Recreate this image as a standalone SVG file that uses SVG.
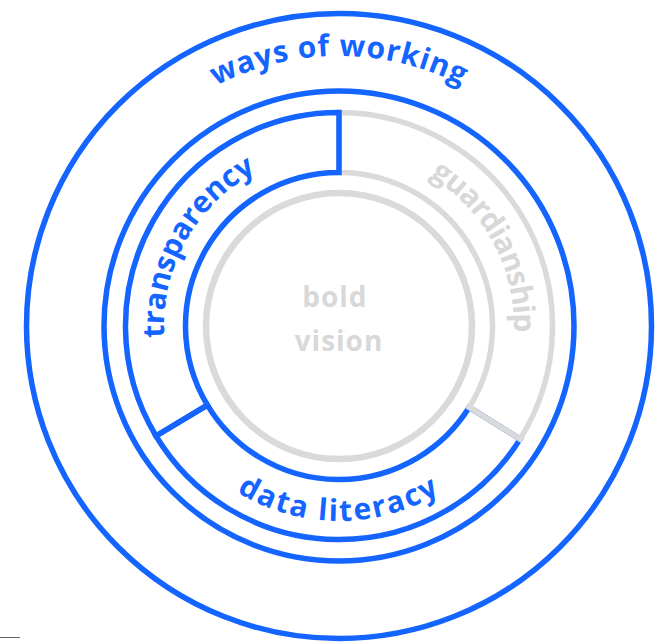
<svg xmlns="http://www.w3.org/2000/svg" width="666" height="643" viewBox="0 0 666 643">
  <style>
    .blue { fill: none; stroke: #1464FF; stroke-width: 5.5; stroke-linejoin: miter; }
    .grey { fill: none; stroke: #DADADA; stroke-width: 5.5; stroke-linejoin: miter; }
    .core { fill: none; stroke: #DADADA; stroke-width: 6.5; }
    .lbl { font-family: "Open Sans", "Liberation Sans", sans-serif; font-weight: 700; font-size: 30px; }
    .lb { fill: #1464FF; }
    .lg { fill: #D8D8D8; }
  </style>
  <defs>
    <path id="p-ways" d="M69,326 A270,270 0 0 1 609,326"/>
    <path id="p-trans" d="M254.2,479.1 A175,175 0 0 1 423.8,172.9"/>
    <path id="p-guard" d="M255.5,172.2 A175,175 0 0 1 422.5,479.8"/>
    <path id="p-data" d="M144,326 A195,195 0 0 0 534,326"/>
  </defs>
  <rect width="666" height="643" fill="#FFFFFF"/>
  <line x1="0" y1="637.5" x2="20" y2="637.5" stroke="#666666" stroke-width="1"/>

  <g id="ways-of-working">
    <circle class="blue" cx="339" cy="326" r="312.5"/>
    <circle class="blue" cx="339" cy="326" r="235"/>
    <text class="lbl lb" letter-spacing="0.8"><textPath href="#p-ways" startOffset="50%" text-anchor="middle">ways of working</textPath></text>
  </g>

  <g id="data-literacy">
    <path class="blue" d="M520.1,439.1 A213.5,213.5 0 0 1 156,436 L207.4,405.05 A153.5,153.5 0 0 0 469.2,407.3 Z"/>
    <text class="lbl lb" letter-spacing="2"><textPath href="#p-data" startOffset="50%" text-anchor="middle">data literacy</textPath></text>
  </g>

  <g id="guardianship">
    <path class="grey" d="M339,112.5 A213.5,213.5 0 0 1 520.1,439.1 L469.2,407.3 A153.5,153.5 0 0 0 339,172.5 Z"/>
    <text class="lbl lg" letter-spacing="-1"><textPath href="#p-guard" startOffset="50%" text-anchor="middle">guardianship</textPath></text>
  </g>

  <g id="transparency">
    <path class="blue" d="M156,436 A213.5,213.5 0 0 1 339,112.5 L339,172.5 A153.5,153.5 0 0 0 207.4,405.05 Z"/>
    <text class="lbl lb"><textPath href="#p-trans" startOffset="50%" text-anchor="middle">transparency</textPath></text>
  </g>

  <g id="bold-vision">
    <circle class="core" cx="339" cy="326" r="133"/>
    <text class="lbl lg" text-anchor="middle" letter-spacing="1" style="font-size:28px">
      <tspan x="339" y="307">bold</tspan>
      <tspan x="339" y="351">vision</tspan>
    </text>
  </g>
</svg>
